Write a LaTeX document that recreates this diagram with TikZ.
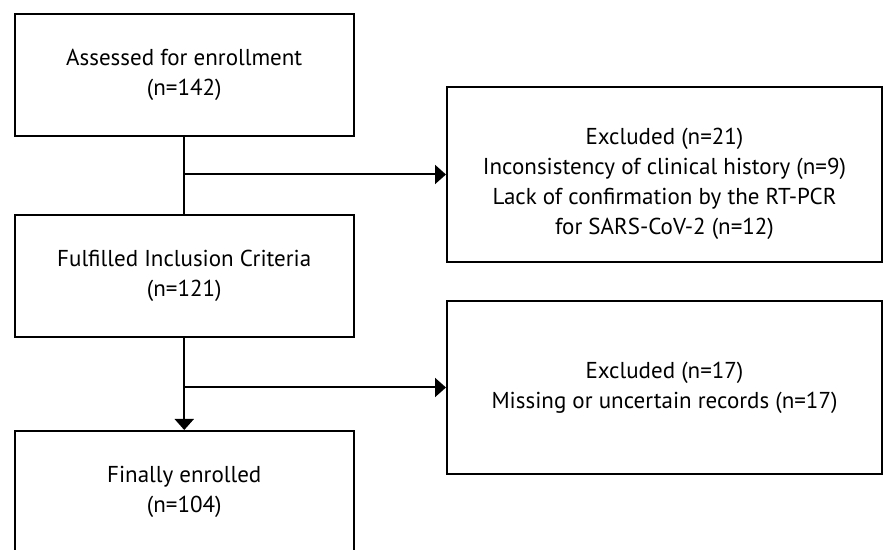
\documentclass[tikz,border=0pt]{standalone}
\usepackage{fontspec}
\setmainfont{PT Sans}
\usetikzlibrary{arrows.meta}
\begin{document}
\begin{tikzpicture}[x=1pt,y=1pt,
  txt/.style={align=center, inner sep=0pt, font=\fontsize{23}{30}\selectfont},
  box/.style={draw, line width=2pt, txt},
  conn/.style={line width=2pt},
  arr/.style={line width=2pt, -{Triangle[length=11pt,width=19pt]}}]
\useasboundingbox (0,0) rectangle (883,549);
\clip (0,0) rectangle (883,549);
\node[box, minimum width=339.5pt, minimum height=122pt] (a) at (184.25,474) {Assessed for enrollment\\(n=142)};
\node[box, minimum width=339.5pt, minimum height=122.5pt] (b) at (184.25,273) {Fulfilled Inclusion Criteria\\(n=121)};
\node[box, minimum width=339.5pt, minimum height=122pt] (c) at (184.25,57) {Finally enrolled\\(n=104)};
\node[box, minimum width=435pt, minimum height=175pt,
  label={[txt, yshift=-9pt]center:{Excluded (n=21)\\Inconsistency of clinical history (n=9)\\Lack of confirmation by the RT-PCR\\for SARS-CoV-2 (n=12)}}] (r1) at (664.5,374.5) {};
\node[box, minimum width=435pt, minimum height=173pt] (r2) at (664.5,161.5) {Excluded (n=17)\\Missing or uncertain records (n=17)};
\draw[conn] (a.south) -- (b.north);
\draw[arr] (a.south |- r1.west) -- (r1.west);
\draw[arr] (b.south) -- (c.north);
\draw[arr] (b.south |- r2.west) -- (r2.west);
\end{tikzpicture}
\end{document}
